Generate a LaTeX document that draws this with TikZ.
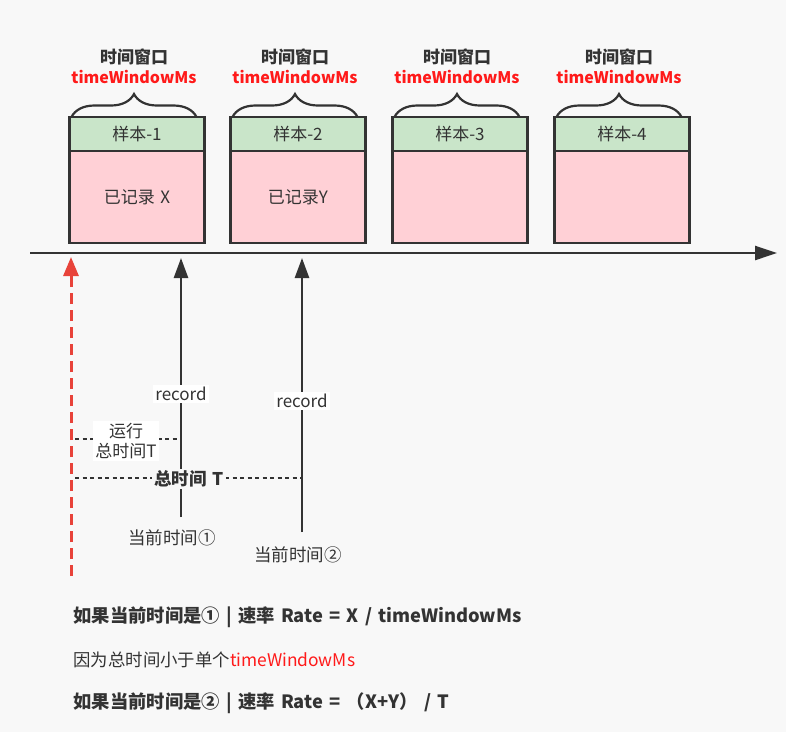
\documentclass[tikz,border=0pt]{standalone}
\usepackage{fontspec}
\setmainfont{Noto Sans CJK SC}[WordSpace=1.5]
\usepackage{tikz}
\usetikzlibrary{arrows.meta, positioning, decorations.pathreplacing}
\definecolor{ink}{HTML}{333333}
\definecolor{hot}{HTML}{FF1A1A}
\definecolor{redln}{HTML}{E8433A}
\definecolor{grn}{HTML}{C9E5C9}
\definecolor{pnk}{HTML}{FFD0D6}
\definecolor{bg}{HTML}{F8F8F8}

\begin{document}
\begin{tikzpicture}[
      x=1pt, y=-1pt,
      font=\fontsize{17}{20}\selectfont, text=ink,
      hd/.style={draw=ink, line width=2.4pt, fill=grn, minimum width=135pt,
                 minimum height=34pt, inner sep=0pt, outer sep=0pt},
      bd/.style={draw=ink, line width=2.4pt, fill=pnk, minimum width=135pt,
                 minimum height=92pt, inner sep=0pt, outer sep=0pt},
      brc/.style={draw=ink, line width=2.2pt, decorate,
                  decoration={brace, amplitude=23pt}},
      ttl/.style={font=\fontsize{17}{20}\selectfont\bfseries},
      ms/.style={font=\fontsize{16}{19}\selectfont\bfseries, text=hot},
      axis/.style={ink, line width=2.4pt, -{Triangle[length=22pt, width=14pt]}},
      rec/.style={ink, line width=2.6pt, -{Triangle[length=20pt, width=14pt]}},
      mk/.style={redln, line width=3pt, dash pattern=on 11pt off 6pt,
                 -{Triangle[length=19pt, width=15pt]}},
      dots/.style={ink, line width=2.2pt, dash pattern=on 4pt off 3.5pt},
      lbl/.style={fill=white, inner sep=2pt},
      big/.style={font=\fontsize{18.3}{22}\selectfont\bfseries, anchor=west},
    ]
    \fill[bg] (0,0) rectangle (786,732);
    \useasboundingbox (0,0) rectangle (786,732);

    % sample windows
    \foreach \i/\x/\txt in {1/137/{已记录 X}, 2/298/{已记录Y}, 3/460/{}, 4/622/{}} {
      \node[hd] (hd\i) at (\x,134) {样本-\i};
      \node[bd, below=0pt of hd\i] (bd\i) {\txt};
      \draw[brc] ([xshift=2pt]hd\i.north west) -- ([xshift=-8pt]hd\i.north east);
      \node[ttl] (tw\i) at (\x-3,57) {时间窗口};
      \node[ms] (ms\i) at (\x-3,77) {timeWindowMs};
    }

    % time axis
    \coordinate (ax0) at (30,253);
    \coordinate (ax1) at (777,253);
    \draw[axis] (ax0) -- (ax1);

    % start of counting
    \coordinate (st0) at (71,576);
    \coordinate (st1) at (71,257);
    \draw[mk] (st0) -- (st1);

    % record calls
    \coordinate (rc1) at (181,517);
    \coordinate (rt1) at (181,258);
    \coordinate (rc2) at (302,532);
    \coordinate (rt2) at (302,258);
    \draw[rec] (rc1) -- (rt1);
    \draw[rec] (rc2) -- (rt2);
    \node[lbl] (rec1) at (181,394) {record};
    \node[lbl] (rec2) at (302,401) {record};

    % elapsed time
    \coordinate (dt1) at (75,439);
    \coordinate (dt2) at (75,478);
    \draw[dots] (dt1) -- (dt1 -| rc1);
    \draw[dots] (dt2) -- (dt2 -| rc2);
    \node[lbl, align=center, font=\fontsize{17}{20}\selectfont] (run) at (126,441)
      {运行\\总时间T};
    \node[fill=bg, inner sep=2pt, font=\fontsize{17.5}{20}\selectfont\bfseries]
      (tot) at (189,479) {总时间 T};

    \node[font=\fontsize{17.5}{20}\selectfont] (now1) at (172,538) {当前时间①};
    \node[font=\fontsize{17.5}{20}\selectfont] (now2) at (298,555) {当前时间②};

    % notes
    \node[big] (n1) at (70,617) {如果当前时间是① | 速率 Rate = X / timeWindowMs};
    \node[anchor=west, font=\fontsize{17.4}{20}\selectfont] (n2) at (70,660)
      {因为总时间小于单个\textcolor{hot}{timeWindowMs}};
    \node[big] (n3) at (70,703) {如果当前时间是② | 速率 Rate = （X+Y） / T};
    \end{tikzpicture}
\end{document}
